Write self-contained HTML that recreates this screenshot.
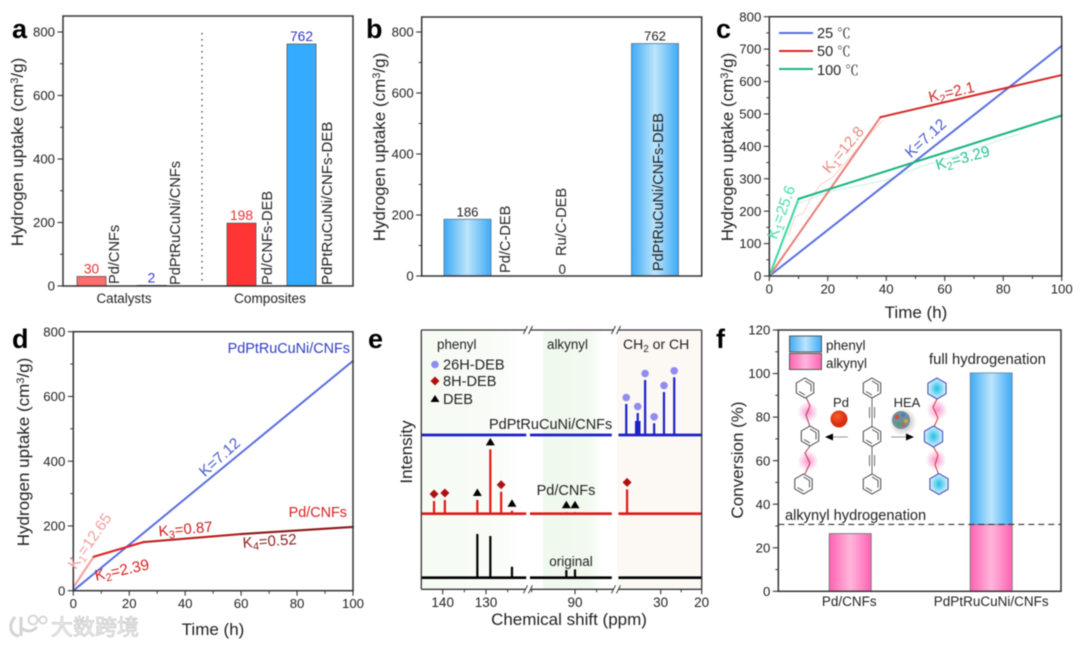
<!DOCTYPE html>
<html lang="en">
<head>
<meta charset="utf-8">
<title>Hydrogen uptake figure</title>
<style>
html,body{margin:0;padding:0;background:#fff;width:1080px;height:645px;overflow:hidden}
svg{display:block;filter:blur(0.5px)}
text{font-family:"Liberation Sans","Noto Sans CJK SC",sans-serif;fill:#222}
.t{font-size:17px}
.l{font-size:14.6px}
.big{font-size:27px;font-weight:bold;fill:#000}
</style>
</head>
<body>
<svg id="root" width="1080" height="645" viewBox="0 0 1080 645" xmlns="http://www.w3.org/2000/svg">
<defs>
<linearGradient id="blueBar" x1="0" x2="1" y1="0" y2="0"><stop offset="0" stop-color="#3eaaf5"/><stop offset=".5" stop-color="#bde5fc"/><stop offset="1" stop-color="#3eaaf5"/></linearGradient>
<linearGradient id="pinkBar" x1="0" x2="1" y1="0" y2="0"><stop offset="0" stop-color="#ff62b2"/><stop offset=".5" stop-color="#ffb6dc"/><stop offset="1" stop-color="#ff62b2"/></linearGradient>
<linearGradient id="bgGreen" x1="0" x2="1" y1="0" y2="0"><stop offset="0" stop-color="#f6fbf4"/><stop offset=".8" stop-color="#f9fcf7"/><stop offset="1" stop-color="#ffffff"/></linearGradient>
<linearGradient id="bgAlk" x1="0" x2="1" y1="0" y2="0"><stop offset="0" stop-color="#f0f9ee"/><stop offset=".8" stop-color="#f3faf1"/><stop offset="1" stop-color="#ffffff"/></linearGradient>
<radialGradient id="glow"><stop offset="0" stop-color="#f77cc0" stop-opacity=".8"/><stop offset="1" stop-color="#f77cc0" stop-opacity="0"/></radialGradient>
<radialGradient id="cyanFill"><stop offset="0" stop-color="#22bdea"/><stop offset="1" stop-color="#d8f3fb"/></radialGradient>
<radialGradient id="pdBall" cx=".4" cy=".35"><stop offset="0" stop-color="#f4602e"/><stop offset="1" stop-color="#d92c10"/></radialGradient>
<radialGradient id="shadow"><stop offset="0" stop-color="#777" stop-opacity=".7"/><stop offset="1" stop-color="#777" stop-opacity="0"/></radialGradient>
<g id="hexGray"><polygon points="0,-10 8.7,-5 8.7,5 0,10 -8.7,5 -8.7,-5" fill="#fff" stroke="#444" stroke-width="1"/><polyline points="0,-7 6,-3.5 6,3.5" fill="none" stroke="#444" stroke-width=".9"/><line x1="-6" y1="3.5" x2="0" y2="7" stroke="#444" stroke-width=".9"/></g>
<g id="hexBlue"><polygon points="0,-10.5 9.1,-5.2 9.1,5.2 0,10.5 -9.1,5.2 -9.1,-5.2" fill="url(#cyanFill)" stroke="#3c40b8" stroke-width="1"/></g>
</defs>
<rect width="1080" height="645" fill="#fff"/>

<g id="panel-a">
  <text class="big" x="12" y="38">a</text>
  <text class="t" transform="translate(23,152) rotate(-90)" text-anchor="middle">Hydrogen uptake (cm<tspan dy="-5" font-size="11">3</tspan><tspan dy="5">/g)</tspan></text>
  <line x1="202" x2="202" y1="33" y2="282" stroke="#444" stroke-width="1.3" stroke-dasharray="1.5 4.5"/>
  <text class="l" transform="translate(119,284) rotate(-90)">Pd/CNFs</text>
  <text class="l" transform="translate(180,285) rotate(-90)">PdPtRuCuNi/CNFs</text>
  <text class="l" transform="translate(272,285) rotate(-90)">Pd/CNFs-DEB</text>
  <text class="l" transform="translate(332,285) rotate(-90)" style="font-size:15px">PdPtRuCuNi/CNFs-DEB</text>
  <text x="124" y="303" text-anchor="middle" font-size="13.4">Catalysts</text>
  <text x="270" y="303" text-anchor="middle" font-size="13.6">Composites</text>
</g>

<g id="panel-b">
  <text class="big" x="366" y="38">b</text>
  <text class="t" transform="translate(385,147) rotate(-90)" text-anchor="middle">Hydrogen uptake (cm<tspan dy="-5" font-size="11">3</tspan><tspan dy="5">/g)</tspan></text>
  <text class="l" transform="translate(510,273) rotate(-90)">Pd/C-DEB</text>
  <text class="l" transform="translate(566,256) rotate(-90)">Ru/C-DEB</text>
</g>

<g id="panel-c">
  <text class="big" x="716" y="38">c</text>
  <text class="t" transform="translate(733,147) rotate(-90)" text-anchor="middle">Hydrogen uptake (cm<tspan dy="-5" font-size="11">3</tspan><tspan dy="5">/g)</tspan></text>
  <text class="t" x="916" y="318" text-anchor="middle">Time (h)</text>
</g>

<g id="panel-d">
  <text class="big" x="12" y="348">d</text>
  <text class="t" transform="translate(29,452) rotate(-90)" text-anchor="middle">Hydrogen uptake (cm<tspan dy="-5" font-size="11">3</tspan><tspan dy="5">/g)</tspan></text>
  <text class="t" x="213" y="635" text-anchor="middle">Time (h)</text>
</g>

<g id="panel-e">
  <rect x="422" y="331" width="96" height="258" fill="url(#bgGreen)"/>
  <rect x="543" y="331" width="60" height="258" fill="url(#bgAlk)"/>
  <rect x="617" y="331" width="84" height="258" fill="#fcf8f4"/>
  <text class="big" x="368" y="348">e</text>
  <text class="t" transform="translate(412,452) rotate(-90)" text-anchor="middle">Intensity</text>
  <text class="t" x="569" y="625" text-anchor="middle">Chemical shift (ppm)</text>
  <text x="437" y="349" font-size="13.4">phenyl</text>
  <text x="547" y="349" font-size="13.4">alkynyl</text>
  <text x="623" y="349" font-size="14">CH<tspan dy="3" font-size="10">2</tspan><tspan dy="-3"> or CH</tspan></text>
  <circle cx="435" cy="364.5" r="3.8" fill="#8f8cf2"/>
  <text x="443" y="369.5" font-size="14.6">26H-DEB</text>
  <polygon points="435,376.5 439.5,381 435,385.5 430.5,381" fill="#b01010"/>
  <text x="443" y="386" font-size="14.6">8H-DEB</text>
  <polygon points="435,395 439.5,402 430.5,402" fill="#000"/>
  <text x="443" y="404" font-size="14.6">DEB</text>
  <text x="489" y="429" font-size="14.5">PdPtRuCuNi/CNFs</text>
  <text x="566" y="495" text-anchor="middle" font-size="14.5">Pd/CNFs</text>
  <text x="571" y="566" text-anchor="middle" font-size="13.5">original</text>
</g>

<g id="panel-f">
  <text class="big" x="716" y="348">f</text>
  <text class="t" transform="translate(743,460) rotate(-90)" text-anchor="middle">Conversion (%)</text>
  <rect x="789.5" y="336" width="32" height="16" fill="url(#blueBar)" stroke="#555"/>
  <rect x="789.5" y="353.5" width="32" height="16" fill="url(#pinkBar)" stroke="#555"/>
  <text x="826" y="350" font-size="13.4">phenyl</text>
  <text x="826" y="368" font-size="13.4">alkynyl</text>
  <text x="929" y="364" font-size="14.8">full hydrogenation</text>
  <text x="785" y="520" font-size="14.6">alkynyl hydrogenation</text>
  <g id="scheme">
    <circle cx="808" cy="412" r="10.5" fill="url(#glow)"/><circle cx="808" cy="461" r="10.5" fill="url(#glow)"/>
    <circle cx="937" cy="410" r="10.5" fill="url(#glow)"/><circle cx="936" cy="460" r="10.5" fill="url(#glow)"/>
    <polyline points="806,397 810,406 806,415 810,427" fill="none" stroke="#c03050" stroke-width="1"/>
    <polyline points="810,446 805,453 810,463 805,474" fill="none" stroke="#c03050" stroke-width="1"/>
    <use href="#hexGray" x="805" y="388"/><use href="#hexGray" x="810" y="436"/><use href="#hexGray" x="803.5" y="484"/>
    <line x1="872" y1="397" x2="872" y2="427" stroke="#444" stroke-width=".8"/><line x1="872" y1="446" x2="872" y2="474" stroke="#444" stroke-width=".8"/>
    <line x1="869.4" y1="407" x2="869.4" y2="418" stroke="#444" stroke-width=".8"/><line x1="874.6" y1="407" x2="874.6" y2="418" stroke="#444" stroke-width=".8"/>
    <line x1="869.4" y1="455" x2="869.4" y2="466" stroke="#444" stroke-width=".8"/><line x1="874.6" y1="455" x2="874.6" y2="466" stroke="#444" stroke-width=".8"/>
    <use href="#hexGray" x="872" y="388"/><use href="#hexGray" x="872" y="436.5"/><use href="#hexGray" x="872" y="484"/>
    <polyline points="937,399 933,407 938,418 934,427" fill="none" stroke="#e03030" stroke-width="1"/>
    <polyline points="933,446 938,455 935,465 939,475" fill="none" stroke="#e03030" stroke-width="1"/>
    <use href="#hexBlue" x="937" y="388.5"/><use href="#hexBlue" x="933.5" y="436.5"/><use href="#hexBlue" x="939" y="484"/>
    <circle cx="839" cy="419" r="8.5" fill="url(#pdBall)"/>
    <circle cx="903" cy="422" r="14" fill="url(#shadow)"/>
    <circle cx="901" cy="420" r="9" fill="#6f8f9a"/>
    <circle cx="897" cy="417" r="2" fill="#d84a3a"/><circle cx="903" cy="415" r="1.8" fill="#3a7fd0"/><circle cx="906" cy="421" r="2" fill="#e0a030"/><circle cx="899" cy="424" r="2" fill="#40a860"/><circle cx="903" cy="425" r="1.5" fill="#e05050"/>
    <line x1="848" y1="437" x2="832" y2="437" stroke="#999"/><polygon points="825,437 833,433.5 833,440.5" fill="#000"/>
    <line x1="891" y1="437" x2="906" y2="437" stroke="#999"/><polygon points="914,437 906,433.5 906,440.5" fill="#000"/>
    <text x="841" y="407" text-anchor="middle" font-size="13">Pd</text>
    <text x="907" y="407" text-anchor="middle" font-size="13">HEA</text>
  </g>
</g>

<g id="watermark">
  <path d="M15 617 C8 625 10 635 19 636 M21 617 L21 636 M21 628 C28 633 33 631 37 627" fill="none" stroke="#d4d4d4" stroke-width="3"/>
  <circle cx="33" cy="620" r="4.5" fill="#fff" stroke="#d4d4d4" stroke-width="1.8"/>
  <circle cx="43" cy="620" r="3.6" fill="#fff" stroke="#d4d4d4" stroke-width="1.8"/>
  <text x="51" y="635" font-size="22" style="fill:#f2f2f2;stroke:#c6c6c6;stroke-width:.7">大数跨境</text>
</g>
</svg>

<script>
// ---------- panel a data ----------
const aCategories = ['Pd/CNFs', 'PdPtRuCuNi/CNFs', 'Pd/CNFs-DEB', 'PdPtRuCuNi/CNFs-DEB'];
const aGroups = [0, 0, 1, 1];
const aValues = [30, 2, 198, 762];
const aColors = ['#ff6d6d', '#3a3fc0', '#ff3434', '#35abff'];
const aTextColors = ['#e83030', '#3038c8', '#e83030', '#3038c8'];
const uptakeTicks = [0, 200, 400, 600, 800];
const uptakeMinor = [100, 300, 500, 700];
// ---------- panel b data ----------
const bCategories = ['Pd/C-DEB', 'Ru/C-DEB', 'PdPtRuCuNi/CNFs-DEB'];
const bValues = [186, 0, 762];
// ---------- panel c data ----------
const timeTicks = [0, 20, 40, 60, 80, 100];
const timeMinor = [10, 30, 50, 70, 90];
const cTicks = [0, 100, 200, 300, 400, 500, 600, 700, 800];
const cMinor = [50, 150, 250, 350, 450, 550, 650, 750];
const c25Time = [0, 100];
const c25Uptake = [0, 710];
const c50Time = [0, 38, 100];
const c50Uptake = [0, 490, 620];
const c100Time = [0, 10, 100];
const c100Uptake = [0, 238, 495];
const c50RawTime = [6.5, 8.8, 11.6, 13.9, 17.3, 21.9, 28.7, 35.6, 39];
const c50RawUptake = [126, 183, 193, 234, 280, 306, 378, 450, 481];
const c100RawTime = [10, 16, 23, 32, 40, 51.5, 63, 74, 86];
const c100RawUptake = [224, 245, 265, 281, 296, 337, 368, 404, 440];
// ---------- panel d data ----------
const dHeaTime = [0, 100];
const dHeaUptake = [0, 710];
const dPdTime = [0, 7.3, 25, 60, 100];
const dPdUptake = [10, 105, 150, 175, 197];
// ---------- panel e data ----------
const eTickValues = [140, 130, 90, 30, 20];
const eMinorValues = [135, 125, 100, 85, 25];
const blueCirclePpm = [38.4, 35.6, 33.8, 31.6, 29.2, 26.7];
const blueCircleIntensity = [31, 22, 55, 11.7, 43, 57.7];
const blueShoulderPpm = [36, 35.2];
const blueShoulderIntensity = [14, 14];
const redDiamondPpm = [142, 139.5, 126.5, 38.2];
const redDiamondIntensity = [12.7, 13.7, 22, 24.3];
const redTrianglePpm = [132, 129, 124, 92, 90];
const redTriangleIntensity = [13.7, 64.3, 3, 1.5, 1.5];
const blackPpm = [132, 129, 124, 92, 90];
const blackIntensity = [43.7, 41.7, 11, 7.7, 8.3];
// ---------- panel f data ----------
const fCategories = ['Pd/CNFs', 'PdPtRuCuNi/CNFs'];
const fAlkynyl = [26.5, 30.7];
const fPhenyl = [0, 69.6];
const fTicks = [0, 20, 40, 60, 80, 100, 120];
const fMinor = [10, 30, 50, 70, 90, 110];
const fThreshold = [30.7];

const NS = 'http://www.w3.org/2000/svg';
function add(parent, tag, attrs, name, text) {
  const node = document.createElementNS(NS, tag);
  for (const k in attrs) node.setAttribute(k, attrs[k]);
  
  
  if (text !== undefined) node.textContent = text;
  parent.appendChild(node);
  return node;
}
function linear(d0, d1, r0, r1) { return v => r0 + (v - d0) * (r1 - r0) / (d1 - d0); }
function frame(g, x0, y0, x1, y1) {
  add(g, 'rect', {x: x0, y: y0, width: x1 - x0, height: y1 - y0, fill: 'none', stroke: '#333', 'stroke-width': 1.5}, 'plot-frame');
}
function yAxis(g, scale, x, ticks, minor) {
  ticks.forEach(t => {
    add(g, 'line', {x1: x - 5.5, x2: x, y1: scale(t), y2: scale(t), stroke: '#333', 'stroke-width': 1.1}, 'y-tick');
    add(g, 'text', {x: x - 8, y: scale(t) + 4.6, 'text-anchor': 'end', 'font-size': 13.2}, 'y-tick-label', String(t));
  });
  minor.forEach(t => add(g, 'line', {x1: scale === null ? 0 : x - 3, x2: x, y1: scale(t), y2: scale(t), stroke: '#333', 'stroke-width': 1}, 'y-minor-tick'));
}
function xAxis(g, scale, y, ticks, minor, fs) {
  ticks.forEach(t => {
    add(g, 'line', {x1: scale(t), x2: scale(t), y1: y, y2: y + 5, stroke: '#333', 'stroke-width': 1.1}, 'x-tick');
    add(g, 'text', {x: scale(t), y: y + 17.5, 'text-anchor': 'middle', 'font-size': fs || 13.2}, 'x-tick-label', String(t));
  });
  minor.forEach(t => add(g, 'line', {x1: scale(t), x2: scale(t), y1: y, y2: y + 3, stroke: '#333', 'stroke-width': 1}, 'x-minor-tick'));
}
function segments(g, xs, ys, sx, sy, colors, width, name) {
  for (let i = 0; i < xs.length - 1; i++) {
    add(g, 'line', {x1: sx(xs[i]), y1: sy(ys[i]), x2: sx(xs[i + 1]), y2: sy(ys[i + 1]), stroke: colors[i], 'stroke-width': width, 'stroke-linecap': 'round'}, name);
  }
}
function raw(g, xs, ys, sx, sy, color, name) {
  add(g, 'polyline', {points: xs.map((v, i) => sx(v) + ',' + sy(ys[i])).join(' '), fill: 'none', stroke: color, 'stroke-width': 0.9}, name);
}
function kLabel(g, cx, cy, angle, color, sub, val, fs, name) {
  const t = add(g, 'text', {transform: 'translate(' + cx + ',' + cy + ') rotate(' + angle + ')', 'text-anchor': 'middle', 'font-size': fs || 15.4, style: 'fill:' + color}, name);
  t.appendChild(document.createTextNode('K'));
  if (sub) {
    const s = document.createElementNS(NS, 'tspan');
    s.setAttribute('dy', '3'); s.setAttribute('font-size', '11'); s.textContent = sub;
    t.appendChild(s);
    const v = document.createElementNS(NS, 'tspan');
    v.setAttribute('dy', '-3'); v.textContent = val;
    t.appendChild(v);
  } else {
    t.appendChild(document.createTextNode(val));
  }
}

// ---------- panel a ----------
(function () {
  const g = document.getElementById('panel-a');
  const y = linear(0, 800, 286, 32);
  const cx = (i) => 91.5 + 60 * i + 30 * aGroups[i];
  aCategories.forEach((c, i) => {
    add(g, 'rect', {x: cx(i) - 14.5, y: y(aValues[i]), width: 29, height: y(0) - y(aValues[i]), fill: aColors[i], stroke: '#555', 'stroke-width': 0.8}, 'bar-' + i);
    add(g, 'text', {x: cx(i), y: y(aValues[i]) - 3, 'text-anchor': 'middle', 'font-size': 13.8, style: 'fill:' + aTextColors[i]}, 'bar-value-' + i, String(aValues[i]));
  });
  frame(g, 63, 16, 353, 286);
  yAxis(g, y, 63, uptakeTicks, uptakeMinor);
})();

// ---------- panel b ----------
(function () {
  const g = document.getElementById('panel-b');
  const y = linear(0, 800, 276, 32);
  const cx = (i) => 467.5 + 93.75 * i;
  bCategories.forEach((c, i) => {
    if (bValues[i] > 0) {
      add(g, 'rect', {x: cx(i) - 23.5, y: y(bValues[i]), width: 47, height: y(0) - y(bValues[i]), fill: 'url(#blueBar)', stroke: '#5a7f99', 'stroke-width': 0.9}, 'bar-' + i);
      add(g, 'text', {x: cx(i), y: y(bValues[i]) - 3, 'text-anchor': 'middle', 'font-size': 13.2}, 'bar-value-' + i, String(bValues[i]));
    } else {
      add(g, 'text', {x: cx(i) + 1, y: y(0) - 2, 'text-anchor': 'middle', 'font-size': 13.5}, 'bar-value-' + i, String(bValues[i]));
    }
  });
  add(g, 'text', {transform: 'translate(663,271) rotate(-90)', 'font-size': 14.5}, 'label-pdptrucuni-cnfs-deb', bCategories[2]);
  frame(g, 421.7, 17, 701.7, 276);
  yAxis(g, y, 421.7, uptakeTicks, uptakeMinor);
})();

// ---------- panel c ----------
(function () {
  const g = document.getElementById('panel-c');
  const x = linear(0, 100, 769.3, 1061.7);
  const y = linear(0, 800, 276, 16.7);
  raw(g, c50RawTime, c50RawUptake, x, y, '#f6cfc8', 'series-50c-raw');
  raw(g, c100RawTime, c100RawUptake, x, y, '#c6efe3', 'series-100c-raw');
  segments(g, c25Time, c25Uptake, x, y, ['#5a6ede'], 2, 'series-25c');
  segments(g, c50Time, c50Uptake, x, y, ['#ea8078', '#d42828'], 2, 'series-50c');
  segments(g, c100Time, c100Uptake, x, y, ['#3edaa6', '#1cb584'], 2.1, 'series-100c');
  frame(g, 769.3, 16.7, 1061.7, 276);
  yAxis(g, y, 769.3, cTicks, cMinor);
  xAxis(g, x, 276, timeTicks, timeMinor);
  kLabel(g, 952.7, 97, -13, '#d42828', '2', '=2.1', 15.4, 'label-k2-50c');
  kLabel(g, 847, 153, -50, '#e88a80', '1', '=12.8', 15.4, 'label-k1-50c');
  kLabel(g, 929, 142, -42, '#4a5cd0', '', '=7.12', 15.4, 'label-k-25c');
  kLabel(g, 964, 163, -15, '#2cc195', '2', '=3.29', 15.4, 'label-k2-100c');
  kLabel(g, 786, 214, -70, '#4adcae', '1', '=25.6', 15.4, 'label-k1-100c');
  const legend = [['#5a6ede', '25', 33, 38], ['#d42828', '50', 51, 56], ['#1cb584', '100', 69, 75]];
  legend.forEach(r => {
    add(g, 'line', {x1: 779, x2: 813, y1: r[2], y2: r[2], stroke: r[0], 'stroke-width': 1.9}, 'legend-line-' + r[1]);
    const t = add(g, 'text', {x: 817, y: r[3], 'font-size': 14.5}, 'legend-label-' + r[1], r[1] + ' ');
    const u = document.createElementNS(NS, 'tspan');
    u.setAttribute('style', 'font-family:"Liberation Serif","Noto Serif CJK SC",serif');
    u.setAttribute('font-size', '13.5');
    u.textContent = '℃';
    t.appendChild(u);
  });
})();

// ---------- panel d ----------
(function () {
  const g = document.getElementById('panel-d');
  const x = linear(0, 100, 73.3, 353);
  const y = linear(0, 800, 590.7, 331.7);
  segments(g, dHeaTime, dHeaUptake, x, y, ['#5a6ede'], 2, 'series-pdptrucuni-cnfs');
  segments(g, dPdTime, dPdUptake, x, y, ['#f2a09c', '#e02020', '#b81c1c', '#8e1a1a'], 2.1, 'series-pd-cnfs');
  frame(g, 73.3, 331.7, 353, 590.7);
  yAxis(g, y, 73.3, uptakeTicks, uptakeMinor);
  xAxis(g, x, 590.7, timeTicks, timeMinor);
  add(g, 'text', {x: 350, y: 353, 'text-anchor': 'end', 'font-size': 14.4, style: 'fill:#2f3cc4'}, 'series-label-pdptrucuni-cnfs', 'PdPtRuCuNi/CNFs');
  add(g, 'text', {x: 347, y: 517, 'text-anchor': 'end', 'font-size': 14.4, style: 'fill:#d82020'}, 'series-label-pd-cnfs', 'Pd/CNFs');
  kLabel(g, 223, 461, -42, '#4a5cd0', '', '=7.12', 15.4, 'label-k-hea');
  kLabel(g, 94, 544, -55, '#f0a0a0', '1', '=12.65', 15.4, 'label-k1-pd');
  kLabel(g, 123, 575, -12, '#d82020', '2', '=2.39', 15.4, 'label-k2-pd');
  kLabel(g, 186, 534, -5, '#c82020', '3', '=0.87', 15, 'label-k3-pd');
  kLabel(g, 270, 546, -4, '#8e2020', '4', '=0.52', 15, 'label-k4-pd');
})();

// ---------- panel e ----------
(function () {
  const g = document.getElementById('panel-e');
  const top = 330, bot = 589.3;
  const seg1 = linear(140, 130, 442.7, 486);
  const seg2 = linear(90, 80, 575, 618.3);
  const seg3 = linear(30, 20, 660.7, 701.7);
  const x = (p) => p >= 110 ? seg1(p) : (p >= 60 ? seg2(p) : seg3(p));
  const yBlue = linear(0, 1, 435, 434);
  const yRed = linear(0, 1, 513.7, 512.7);
  const yBlack = linear(0, 1, 577.7, 576.7);
  const ranges = [[145, 120.7], [100.4, 81.5], [40.3, 20]];
  function trace(yf, ppm, ints, color, name) {
    ranges.forEach(r => add(g, 'line', {x1: x(r[0]), x2: x(r[1]), y1: yf(0), y2: yf(0), stroke: color, 'stroke-width': 2.7}, name + '-baseline'));
    ppm.forEach((p, i) => add(g, 'line', {x1: x(p), x2: x(p), y1: yf(0), y2: yf(ints[i]), stroke: color, 'stroke-width': 2.2}, name + '-peak'));
  }
  trace(yBlue, blueCirclePpm, blueCircleIntensity, '#1a22c8', 'trace-pdptrucuni-cnfs');
  blueShoulderPpm.forEach((p, i) => add(g, 'line', {x1: x(p), x2: x(p), y1: yBlue(0), y2: yBlue(blueShoulderIntensity[i]), stroke: '#1a22c8', 'stroke-width': 2.2}, 'trace-pdptrucuni-cnfs-shoulder'));
  trace(yRed, redDiamondPpm, redDiamondIntensity, '#e01818', 'trace-pd-cnfs');
  redTrianglePpm.forEach((p, i) => add(g, 'line', {x1: x(p), x2: x(p), y1: yRed(0), y2: yRed(redTriangleIntensity[i]), stroke: '#e01818', 'stroke-width': 2.2}, 'trace-pd-cnfs-peak'));
  trace(yBlack, blackPpm, blackIntensity, '#000', 'trace-original');
  blueCirclePpm.forEach((p, i) => add(g, 'circle', {cx: x(p), cy: yBlue(blueCircleIntensity[i]) - 6.5, r: 3.8, fill: '#8f8cf2'}, 'marker-26h-deb'));
  redDiamondPpm.forEach((p, i) => {
    const cx = x(p), cy = yRed(redDiamondIntensity[i]) - 7;
    add(g, 'polygon', {points: [cx, cy - 4.5, cx + 4.5, cy, cx, cy + 4.5, cx - 4.5, cy].join(','), fill: '#b01010'}, 'marker-8h-deb');
  });
  redTrianglePpm.forEach((p, i) => {
    const cx = x(p), cy = yRed(redTriangleIntensity[i]) - 7;
    add(g, 'polygon', {points: [cx, cy - 4.5, cx + 4.5, cy + 3, cx - 4.5, cy + 3].join(','), fill: '#000'}, 'marker-deb');
  });
  const frameColor = '#333';
  [[421.3, 525.5], [530.5, 613.5], [618.5, 701.7]].forEach(s => {
    add(g, 'line', {x1: s[0], x2: s[1], y1: top, y2: top, stroke: frameColor, 'stroke-width': 1.3}, 'top-axis');
    add(g, 'line', {x1: s[0], x2: s[1], y1: bot, y2: bot, stroke: frameColor, 'stroke-width': 1.3}, 'bottom-axis');
  });
  add(g, 'line', {x1: 421.3, x2: 421.3, y1: top, y2: bot, stroke: frameColor, 'stroke-width': 1.3}, 'left-axis');
  add(g, 'line', {x1: 701.7, x2: 701.7, y1: top, y2: bot, stroke: frameColor, 'stroke-width': 1.3}, 'right-axis');
  [[525.5, 530.5], [613.5, 618.5]].forEach(s => {
    [top, bot].forEach(yy => {
      add(g, 'line', {x1: s[0] - 2, x2: s[0] + 2, y1: yy + 4, y2: yy - 4, stroke: frameColor, 'stroke-width': 1}, 'axis-break');
      add(g, 'line', {x1: s[1] - 2, x2: s[1] + 2, y1: yy + 4, y2: yy - 4, stroke: frameColor, 'stroke-width': 1}, 'axis-break');
    });
  });
  xAxis(g, x, bot, eTickValues, eMinorValues, 13.5);
})();

// ---------- panel f ----------
(function () {
  const g = document.getElementById('panel-f');
  const y = linear(0, 120, 591.3, 330);
  const cx = (i) => 850.2 + 141 * i;
  fCategories.forEach((c, i) => {
    add(g, 'rect', {x: cx(i) - 21, y: y(fAlkynyl[i]), width: 42, height: y(0) - y(fAlkynyl[i]), fill: 'url(#pinkBar)', stroke: '#777', 'stroke-width': 0.9}, 'bar-alkynyl-' + i);
    if (fPhenyl[i] > 0) {
      add(g, 'rect', {x: cx(i) - 21, y: y(fAlkynyl[i] + fPhenyl[i]), width: 42, height: y(fAlkynyl[i]) - y(fAlkynyl[i] + fPhenyl[i]), fill: 'url(#blueBar)', stroke: '#6c8fa8', 'stroke-width': 0.9}, 'bar-phenyl-' + i);
    }
    add(g, 'text', {x: cx(i) - (i ? 0 : 1), y: 606, 'text-anchor': 'middle', 'font-size': 13.5}, 'x-tick-label', c);
  });
  add(g, 'line', {x1: 778.3, x2: 1061, y1: y(fThreshold[0]), y2: y(fThreshold[0]), stroke: '#333', 'stroke-width': 1.2, 'stroke-dasharray': '6 4'}, 'threshold-line');
  frame(g, 778.3, 330, 1061, 591.3);
  yAxis(g, y, 778.3, fTicks, fMinor);
})();
</script>
</body>
</html>
